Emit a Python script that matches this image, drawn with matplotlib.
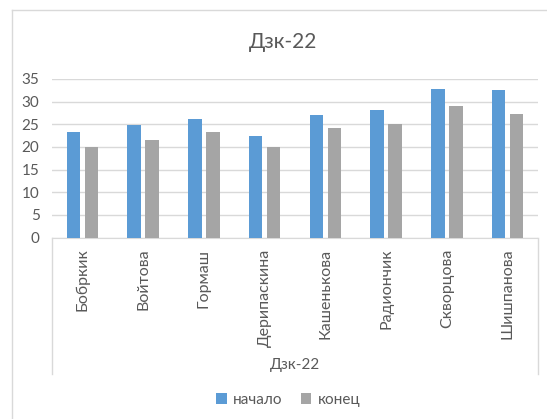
import numpy as np
import matplotlib.pyplot as plt
from matplotlib.lines import Line2D

names = ["Бобркик", "Войтова", "Гормаш", "Дерипаскина", "Кашенькова",
         "Радиончик", "Скворцова", "Шишпанова"]
start = [23.3, 24.9, 26.2, 22.4, 27.0, 28.2, 32.9, 32.5]
end = [20.0, 21.6, 23.2, 19.9, 24.1, 25.0, 29.0, 27.3]
group = "Дзк-22"
yticks = [0, 5, 10, 15, 20, 25, 30, 35]

plt.rcParams['font.family'] = ['Lato', 'DejaVu Sans']
txt = "#595959"
W, H = 547, 419

fig = plt.figure(figsize=(W / 100, H / 100), dpi=100)
L, R, B, T = 52, 538, 237.5, 79
ax = fig.add_axes([L / W, 1 - B / H, (R - L) / W, (B - T) / H])

x = np.arange(len(names))
w = 0.22
ax.bar(x - 0.148, start, w, color="#5B9BD5", label="начало", zorder=3)
ax.bar(x + 0.148, end, w, color="#A5A5A5", label="конец", zorder=3)

ax.set_xlim(-0.5, len(names) - 0.5)
ax.set_ylim(0, 35)
ax.set_yticks(yticks)
ax.yaxis.grid(True, color="#D9D9D9", linewidth=1, zorder=0)
ax.tick_params(axis="y", length=0, pad=9, labelsize=11, labelcolor=txt)
ax.set_xticks(x)
ax.set_xticklabels(names, rotation=90, fontsize=11.5, color=txt, va="top")
ax.tick_params(axis="x", length=0, pad=8)
for s in ["top", "right", "left"]:
    ax.spines[s].set_visible(False)
ax.spines["bottom"].set_color("#D9D9D9")

# category box lines
for xp in (L, R):
    fig.add_artist(Line2D([xp / W, xp / W], [1 - B / H, 1 - 374 / H],
                          color="#D9D9D9", linewidth=1))
# chart border (top and left)
fig.add_artist(Line2D([12 / W, 1], [1 - 10.5 / H, 1 - 10.5 / H], color="#D9D9D9", linewidth=1))
fig.add_artist(Line2D([12 / W, 12 / W], [0, 1 - 10.5 / H], color="#D9D9D9", linewidth=1))

fig.text((L + R) / 2 / W, 1 - 365 / H, group, ha="center", va="center",
         fontsize=11, color=txt)
fig.text(283 / W, 1 - 42 / H, group, ha="center", va="center",
         fontsize=15, color=txt)

fig.legend(loc="center", bbox_to_anchor=(288 / W, 1 - 400 / H), ncol=2, frameon=False,
           fontsize=11, labelcolor=txt, handlelength=0.7, handleheight=0.7,
           handletextpad=0.4, columnspacing=1.2)

fig.savefig("out.png", dpi=100)
